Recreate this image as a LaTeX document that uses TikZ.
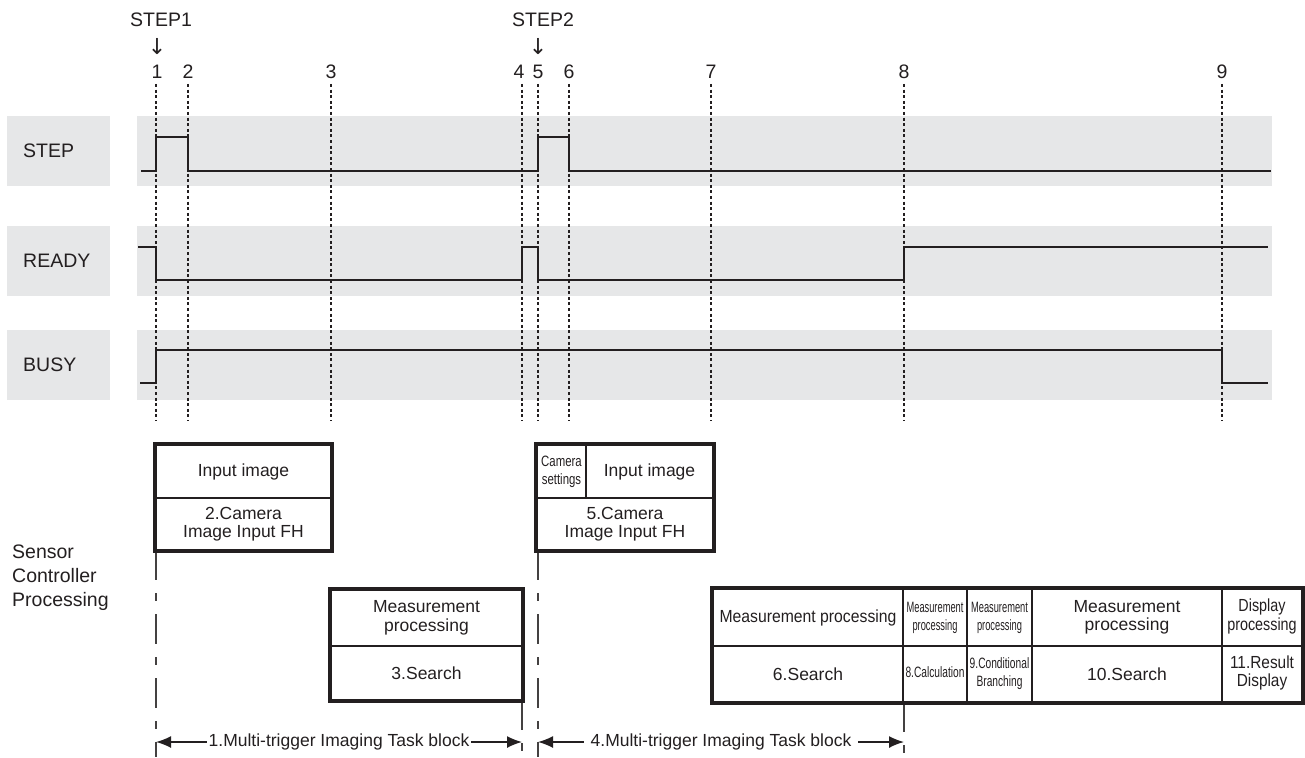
\documentclass[tikz,border=0pt]{standalone}
\usepackage{fontspec}
\setmainfont{Liberation Sans}
\newfontfamily\arrfont{DejaVu Sans}
\usetikzlibrary{arrows.meta}
\definecolor{band}{HTML}{E6E7E8}
\definecolor{ink}{HTML}{231F20}
\newcommand{\sq}[2]{\scalebox{#1}[1]{\begin{tabular}{@{}c@{}}#2\end{tabular}}}
\tikzset{
  bandbox/.style={fill=band, draw=none},
  siglabel/.style={anchor=west, font=\fontsize{19.5}{22}\selectfont, text=ink, inner sep=0},
  numlabel/.style={font=\fontsize{19.5}{22}\selectfont, text=ink, inner sep=0},
  signal/.style={line width=2.7pt, draw=ink, line join=miter},
  dotline/.style={line width=1.4pt, draw=ink, dash pattern=on 3pt off 2.6pt},
  dashline/.style={line width=1.3pt, draw=ink!85, dash pattern=on 30pt off 13pt on 8pt off 13pt},
  cell/.style={draw=ink, line width=1.8pt, inner sep=0, align=center, text=ink,
    font=\fontsize{17.5}{18.5}\selectfont},
  outer/.style={draw=ink, line width=3.4pt},
  smallfont/.style={font=\fontsize{15}{18}\selectfont},
  span/.style={<->, line width=1.5pt, draw=ink, >={Latex[length=15pt,width=12pt]}},
  spanlabel/.style={fill=white, inner xsep=4pt, inner ysep=1pt, text=ink, font=\fontsize{17.5}{20}\selectfont}
}
\begin{document}
\begin{tikzpicture}[x=1pt,y=-1pt]
\useasboundingbox (0,0) rectangle (1305,757);
% gray bands
\foreach \ya/\yb in {116/186, 226/296, 330/400}{
  \fill[band] (7,\ya) rectangle (110,\yb);
  \fill[band] (137,\ya) rectangle (1272,\yb);
}
\node[siglabel] (lstep) at (23,151) {STEP};
\node[siglabel] (lready) at (23,261) {READY};
\node[siglabel] (lbusy) at (23,365) {BUSY};
% top labels
\node[numlabel] (step1) at (161,20) {STEP1};
\node[numlabel] (step2) at (543,20) {STEP2};
\node[numlabel, font=\arrfont\fontsize{22}{24}\selectfont] (arr1) at (157,47) {↓};
\node[numlabel, font=\arrfont\fontsize{22}{24}\selectfont] (arr2) at (538,47) {↓};
\foreach \n/\x/\lx in {1/156/157, 2/188/188, 3/331/331, 4/522/519, 5/538/538, 6/569/569, 7/711/711, 8/904/904, 9/1222/1222}{
  \node[numlabel] (n\n) at (\lx,72) {\n};
  \draw[dotline] (\x,84) -- (\x,421);
}
% signals
\draw[signal] (141,171) -- (156,171) -- (156,137) -- (188,137) -- (188,171) -- (538,171) -- (538,137) -- (569,137) -- (569,171) -- (1271,171);
\draw[signal] (138,247) -- (156,247) -- (156,280) -- (522,280) -- (522,247) -- (538,247) -- (538,280) -- (904,280) -- (904,247) -- (1268,247);
\draw[signal] (140,383) -- (156,383) -- (156,350) -- (1222,350) -- (1222,383) -- (1268,383);
% sensor controller label
\node[anchor=west, align=left, inner sep=0, text=ink, font=\fontsize{19.5}{24}\selectfont] (sensor) at (12,578) {Sensor\\Controller\\Processing};
% dashed vertical lines
\draw[dashline] (156,550) -- (156,757);
\draw[dashline] (538,550) -- (538,757);
\draw[dashline] (522,700) -- (522,757);
\draw[dashline] (904,702) -- (904,757);
% box 1
\node[cell, minimum width=175pt, minimum height=53pt] (b1t) at (243.5,471.5) {Input image};
\node[cell, minimum width=175pt, minimum height=52pt] (b1b) at (243.5,524) {2.Camera\\Image Input FH};
\draw[outer] (b1t.north west) rectangle (b1b.south east);
% box 5
\node[cell, minimum width=49pt, minimum height=53pt, smallfont] (b5c) at (561.5,471.5) {\sq{0.76}{Camera\\settings}};
\node[cell, minimum width=127pt, minimum height=53pt] (b5t) at (649.5,471.5) {Input image};
\node[cell, minimum width=176pt, minimum height=52pt] (b5b) at (625,524) {5.Camera\\Image Input FH};
\draw[outer] (b5c.north west) rectangle (b5b.south east);
% box 3
\node[cell, minimum width=191pt, minimum height=56pt] (b3t) at (426.5,618) {Measurement\\processing};
\node[cell, minimum width=191pt, minimum height=54pt] (b3b) at (426.5,673) {3.Search};
\draw[outer] (b3t.north west) rectangle (b3b.south east);
% big box
\node[cell, minimum width=190pt, minimum height=57pt] (c6t) at (808,617.5) {\scalebox{0.9}[1]{Measurement processing}};
\node[cell, minimum width=190pt, minimum height=56pt] (c6b) at (808,674) {6.Search};
\node[cell, minimum width=64pt, minimum height=57pt, smallfont] (c8t) at (935,617.5) {\sq{0.62}{Measurement\\processing}};
\node[cell, minimum width=64pt, minimum height=56pt, smallfont] (c8b) at (935,674) {\sq{0.68}{8.Calculation}};
\node[cell, minimum width=65pt, minimum height=57pt, smallfont] (c9t) at (999.5,617.5) {\sq{0.62}{Measurement\\processing}};
\node[cell, minimum width=65pt, minimum height=56pt, smallfont] (c9b) at (999.5,674) {\sq{0.68}{9.Conditional\\Branching}};
\node[cell, minimum width=190pt, minimum height=57pt] (c10t) at (1127,617.5) {Measurement\\processing};
\node[cell, minimum width=190pt, minimum height=56pt] (c10b) at (1127,674) {10.Search};
\node[cell, minimum width=80pt, minimum height=57pt] (c11t) at (1262,617.5) {\sq{0.82}{Display\\processing}};
\node[cell, minimum width=80pt, minimum height=56pt] (c11b) at (1262,674) {\sq{0.88}{11.Result\\Display}};
\draw[outer] (c6t.north west) rectangle (c11b.south east);
% span arrows
\coordinate (s1a) at (156,742);
\coordinate (s1b) at (522,742);
\coordinate (s4a) at (538,742);
\coordinate (s4b) at (904,742);
\draw[span] (s1a) -- (s1b) node[midway, spanlabel, inner xsep=2pt] (t1) {1.Multi-trigger Imaging Task block};
\draw[span] (s4a) -- (s4b) node[midway, spanlabel, inner xsep=7pt] (t4) {4.Multi-trigger Imaging Task block};
\end{tikzpicture}
\end{document}
